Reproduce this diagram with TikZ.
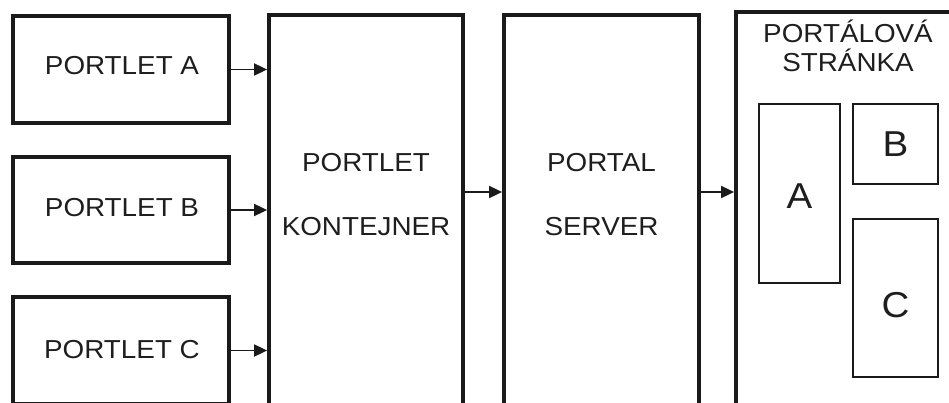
\documentclass[tikz,border=0pt]{standalone}
\usepackage{fontspec}
\setmainfont{Liberation Sans}[FakeStretch=1.07]
\usetikzlibrary{arrows.meta}
\definecolor{ink}{HTML}{1A1A1A}
\definecolor{txt}{HTML}{1E1E1E}
\begin{document}
\begin{tikzpicture}[x=1pt,y=-1pt,
  thickbox/.style={draw=ink, line width=3.8pt, inner sep=0pt, outer sep=0pt},
  thinbox/.style={draw=ink, line width=1.6pt, inner sep=0pt, outer sep=0pt},
  lbl/.style={text=txt, font=\fontsize{26}{30}\selectfont, inner sep=0pt, anchor=base},
  biglbl/.style={text=txt, font=\fontsize{36}{40}\selectfont, inner sep=0pt, anchor=base},
  flow/.style={draw=ink, line width=1.8pt, -{Triangle[length=13pt,width=12pt]}, shorten >=1.9pt}]
\useasboundingbox (0,0) rectangle (949,403);
\clip (0,0) rectangle (949,403);
\fill[white] (0,0) rectangle (949,403);
% portlets
\node[thickbox, minimum width=216pt, minimum height=107pt] (pa) at (121,69.5) {};
\node[thickbox, minimum width=216pt, minimum height=106pt] (pb) at (121,210) {};
\node[thickbox, minimum width=216pt, minimum height=107pt] (pc) at (121,350.5) {};
\node[lbl] (ta) at (122,75) {PORTLET A};
\node[lbl] (tb) at (122,217) {PORTLET B};
\node[lbl] (tc) at (122,358) {PORTLET C};
% container
\node[thickbox, minimum width=194pt, minimum height=425pt] (kont) at (366,227.5) {};
\node[lbl] (k1) at (366,172) {PORTLET};
\node[lbl] (k2) at (366,236) {KONTEJNER};
% server
\node[thickbox, minimum width=195pt, minimum height=425pt] (serv) at (601.5,227.5) {};
\node[lbl] (s1) at (601.5,172) {PORTAL};
\node[lbl] (s2) at (601.5,236) {SERVER};
% portal page
\node[thickbox, minimum width=244pt, minimum height=428pt] (page) at (858,226) {};
\node[lbl] (p1) at (848,43) {PORTÁLOVÁ};
\node[lbl] (p2) at (848,72) {STRÁNKA};
\node[thinbox, minimum width=81pt, minimum height=179pt] (ia) at (799.5,193.5) {};
\node[thinbox, minimum width=85pt, minimum height=80pt] (ib) at (895.5,144) {};
\node[thinbox, minimum width=85pt, minimum height=158pt] (ic) at (895.5,298) {};
\node[biglbl] (la) at (799.5,208) {A};
\node[biglbl] (lb) at (895.5,157) {B};
\node[biglbl] (lc) at (895.5,317) {C};
% connectors
\coordinate (m) at (0,192);
\draw[flow] (pa.east) -- (pa.east -| kont.west);
\draw[flow] (pb.east) -- (pb.east -| kont.west);
\draw[flow] (pc.east) -- (pc.east -| kont.west);
\draw[flow] (kont.east |- m) -- (serv.west |- m);
\draw[flow] (serv.east |- m) -- (page.west |- m);
\end{tikzpicture}
\end{document}
